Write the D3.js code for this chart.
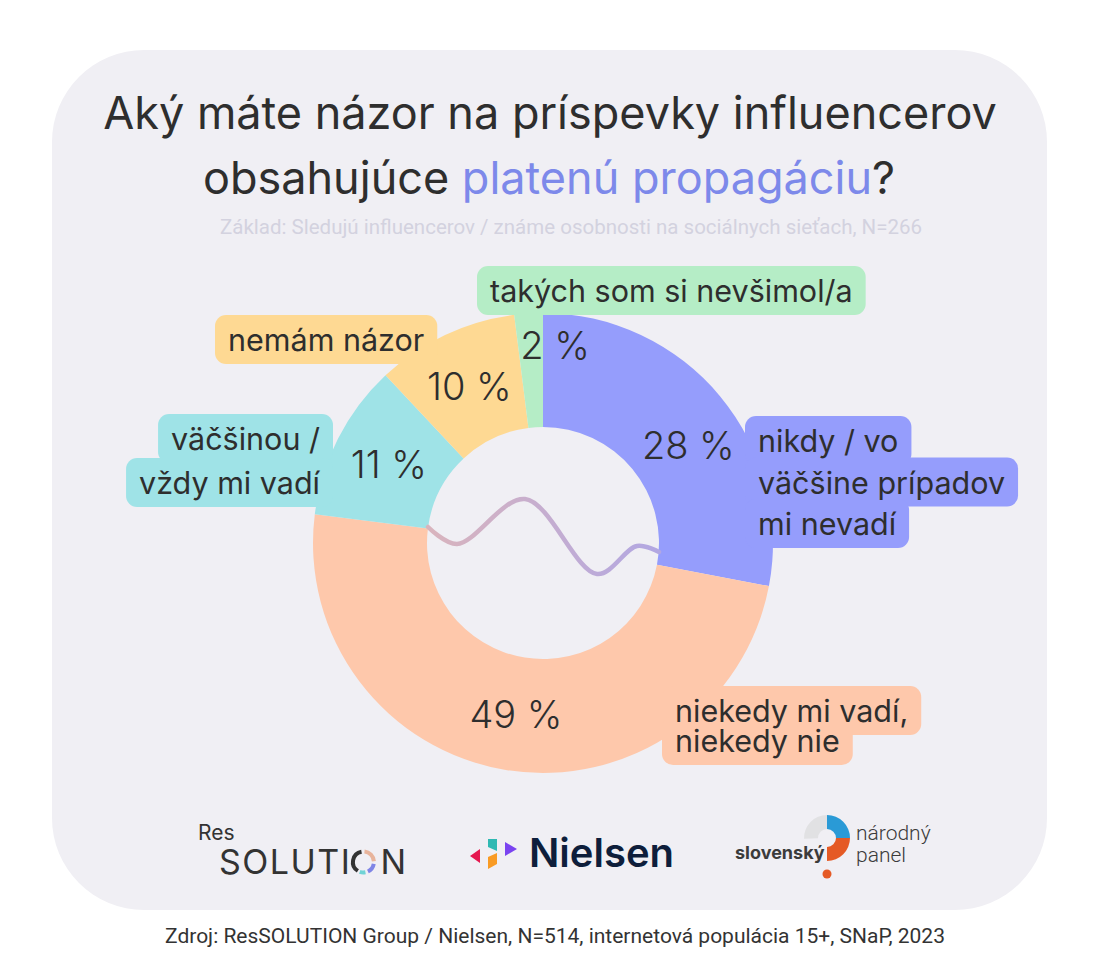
<!DOCTYPE html>
<html>
<head>
<meta charset="utf-8">
<script src="https://cdn.jsdelivr.net/npm/d3@7"></script>
<style>
  body { margin: 0; background: #ffffff; }
  svg { display: block; }
</style>
</head>
<body>
<svg id="vis" width="1100" height="962"></svg>
<script>
const svg = d3.select('#vis');
const width = +svg.attr('width');
const height = +svg.attr('height');

// data
const categories = [
  'nikdy / vo väčšine prípadov mi nevadí',
  'niekedy mi vadí, niekedy nie',
  'väčšinou / vždy mi vadí',
  'nemám názor',
  'takých som si nevšimol/a'
];
const values = [28, 49, 11, 10, 2];
const labelLines = [
  ['nikdy / vo', 'väčšine prípadov', 'mi nevadí'],
  ['niekedy mi vadí,', 'niekedy nie'],
  ['väčšinou /', 'vždy mi vadí'],
  ['nemám názor'],
  ['takých som si nevšimol/a']
];
const sliceColors = ['#959dfc', '#fec8ab', '#9fe3e7', '#fed993', '#b5edc6'];

const titleLine1 = 'Aký máte názor na príspevky influencerov';
const titleLine2a = 'obsahujúce ';
const titleLine2b = 'platenú propagáciu';
const titleLine2c = '?';
const subtitle = 'Základ: Sledujú influencerov / známe osobnosti na sociálnych sieťach, N=266';
const source = 'Zdroj: ResSOLUTION Group / Nielsen, N=514, internetová populácia 15+, SNaP, 2023';

const font = 'Inter, "Noto Sans", sans-serif';
const narrowFont = 'Roboto, "Noto Sans", sans-serif';
const textColor = '#2e2e2e';

// card background
svg.append('rect')
  .attr('x', 52).attr('y', 50)
  .attr('width', 995).attr('height', 860)
  .attr('rx', 92)
  .attr('fill', '#f0eff4');

// title
svg.append('text')
  .attr('x', 550).attr('y', 129)
  .attr('text-anchor', 'middle')
  .style('font-family', font).style('font-size', '45px').style('font-weight', 400)
  .attr('fill', textColor)
  .text(titleLine1);

const t2 = svg.append('text')
  .attr('x', 549).attr('y', 194)
  .attr('text-anchor', 'middle')
  .style('font-family', font).style('font-size', '45px').style('font-weight', 400)
  .attr('fill', textColor);
t2.append('tspan').text(titleLine2a);
t2.append('tspan').attr('fill', '#7d89ea').text(titleLine2b);
t2.append('tspan').text(titleLine2c);

svg.append('text')
  .attr('x', 571).attr('y', 234)
  .attr('text-anchor', 'middle')
  .style('font-family', narrowFont).style('font-size', '20.5px')
  .attr('fill', '#d3d2df')
  .text(subtitle);

// donut
const cx = 543, cy = 543;
const innerR = 116, outerR = 230;

const pie = d3.pie().sort(null).value(d => d.value);
const arcs = pie(values.map((v, i) => ({ value: v, i: i })));
const arc = d3.arc().innerRadius(innerR).outerRadius(outerR);

const g = svg.append('g').attr('transform', `translate(${cx},${cy})`);

g.selectAll('path.slice')
  .data(arcs)
  .enter()
  .append('path')
  .attr('class', 'slice')
  .attr('d', arc)
  .attr('fill', d => sliceColors[d.data.i]);

// category label boxes (per line highlight)
const labelPos = [
  { x: 758, y: 452, anchor: 'start', lh: 41.5 },
  { x: 675, y: 722, anchor: 'start', lh: 30 },
  { x: 320, y: 450, anchor: 'end', lh: 44 },
  { x: 228, y: 351, anchor: 'start', lh: 40 },
  { x: 490, y: 302, anchor: 'start', lh: 40 }
];

labelLines.forEach((lines, i) => {
  const p = labelPos[i];
  const lg = svg.append('g');
  const bg = lg.append('g');
  const txt = lg.append('g');
  lines.forEach((line, j) => {
    const t = txt.append('text')
      .attr('x', p.x).attr('y', p.y + j * p.lh)
      .attr('text-anchor', p.anchor)
      .style('font-family', font).style('font-size', '30.5px')
      .attr('fill', textColor)
      .text(line);
    const w = t.node().getComputedTextLength();
    const x0 = p.anchor === 'end' ? p.x - w : p.x;
    bg.append('rect')
      .attr('x', x0 - 13)
      .attr('y', p.y + j * p.lh - 36)
      .attr('width', w + 26)
      .attr('height', 49)
      .attr('rx', 11)
      .attr('fill', sliceColors[i]);
  });
});

// percentage labels
g.selectAll('text.pct')
  .data(arcs)
  .enter()
  .append('text')
  .attr('class', 'pct')
  .attr('transform', d => {
    const c = arc.centroid(d);
    if (d.data.value < 5) return `translate(${c[0] + 23},${c[1] - 25})`;
    return `translate(${c[0] + (d.index === 0 ? 12 : 0)},${c[1] + (d.index === 0 ? 13 : 0)})`;
  })
  .attr('text-anchor', 'middle')
  .attr('dy', '0.36em')
  .style('font-family', font).style('font-size', '38px').style('font-weight', 300)
  .attr('fill', textColor)
  .text(d => d.data.value + ' %');

// decorative wave through the hole
const wave = [[-115, -16], [-86, 1], [-18, -44], [54, 31], [94, 3], [116, 9]];
const grad = svg.append('defs').append('linearGradient')
  .attr('id', 'waveGrad')
  .attr('gradientUnits', 'userSpaceOnUse')
  .attr('x1', -innerR).attr('x2', innerR)
  .attr('y1', 0).attr('y2', 0);
grad.append('stop').attr('offset', '0%').attr('stop-color', '#d9b4bd');
grad.append('stop').attr('offset', '100%').attr('stop-color', '#b2a7e2');

g.append('path')
  .attr('d', d3.line().curve(d3.curveCatmullRom.alpha(0.5))(wave))
  .attr('fill', 'none')
  .attr('stroke', 'url(#waveGrad)')
  .attr('stroke-width', 4.5)
  .attr('stroke-linecap', 'round');

// logos
// ResSOLUTION
svg.append('text')
  .attr('x', 198).attr('y', 840)
  .style('font-family', font).style('font-size', '21px')
  .attr('fill', '#333').text('Res');
const sol = svg.append('text')
  .attr('x', 219).attr('y', 874)
  .style('font-family', font).style('font-size', '34px')
  .style('letter-spacing', '1.5px')
  .attr('fill', '#333').text('SOLUTI');
const solW = sol.node().getComputedTextLength();
const ringX = 219 + solW + 12, ringY = 862, ringR = 10.5;
const ringArc = d3.arc().innerRadius(ringR - 2).outerRadius(ringR + 2);
[
  [0.1, 1.5, '#e8b49c'],
  [1.75, 2.7, '#7f85e6'],
  [2.95, 3.5, '#70d3d6']
].forEach(([a0, a1, c]) => {
  svg.append('path')
    .attr('transform', `translate(${ringX},${ringY})`)
    .attr('d', ringArc({ startAngle: a0, endAngle: a1 }))
    .attr('fill', c);
});
svg.append('path')
  .attr('transform', `translate(${ringX},${ringY})`)
  .attr('d', ringArc({ startAngle: 3.7, endAngle: 6.1 }))
  .attr('fill', '#333');
svg.append('text')
  .attr('x', ringX + 17).attr('y', 874)
  .style('font-family', font).style('font-size', '34px')
  .attr('fill', '#333').text('N');

// Nielsen
const tri = (pts, c) => svg.append('path').attr('d', d3.line()(pts) + 'Z').attr('fill', c);
tri([[470, 856], [480, 849], [480, 863]], '#e5184f');
tri([[488, 839], [497, 839], [497, 851], [488, 847]], '#2fb9b3');
tri([[488, 857], [497, 853], [497, 864], [488, 869]], '#f99b24');
tri([[505, 842], [517, 849], [505, 856]], '#7a43f0');
svg.append('text')
  .attr('x', 529).attr('y', 867)
  .style('font-family', font).style('font-size', '40px').style('font-weight', 600)
  .attr('fill', '#0e1e3b').text('Nielsen');

// slovenský národný panel
svg.append('text')
  .attr('x', 735).attr('y', 859)
  .style('font-family', font).style('font-size', '18px').style('font-weight', 700)
  .attr('fill', '#3b3b3b').text('slovenský');
const qx = 827, qy = 838;
const qArc = d3.arc();
svg.append('path').attr('transform', `translate(${qx},${qy})`)
  .attr('d', qArc({ innerRadius: 9, outerRadius: 23, startAngle: -1.6, endAngle: 0 }))
  .attr('fill', '#e1e1e3');
svg.append('path').attr('transform', `translate(${qx},${qy})`)
  .attr('d', qArc({ innerRadius: 9, outerRadius: 23, startAngle: 0, endAngle: Math.PI / 2 }))
  .attr('fill', '#2a9ad6');
svg.append('path').attr('transform', `translate(${qx},${qy})`)
  .attr('d', qArc({ innerRadius: 9, outerRadius: 23, startAngle: Math.PI / 2, endAngle: Math.PI }))
  .attr('fill', '#e55a25');
svg.append('circle').attr('cx', qx).attr('cy', qy + 36).attr('r', 4.5).attr('fill', '#e55a25');
svg.append('text')
  .attr('x', 856).attr('y', 840)
  .style('font-family', narrowFont).style('font-size', '21px').style('font-weight', 300)
  .attr('fill', '#3b3b3b').text('národný');
svg.append('text')
  .attr('x', 856).attr('y', 862)
  .style('font-family', narrowFont).style('font-size', '21px').style('font-weight', 300)
  .attr('fill', '#3b3b3b').text('panel');

// source
svg.append('text')
  .attr('x', 555).attr('y', 943)
  .attr('text-anchor', 'middle')
  .style('font-family', narrowFont).style('font-size', '21px')
  .attr('fill', '#333')
  .text(source);
</script>
</body>
</html>
